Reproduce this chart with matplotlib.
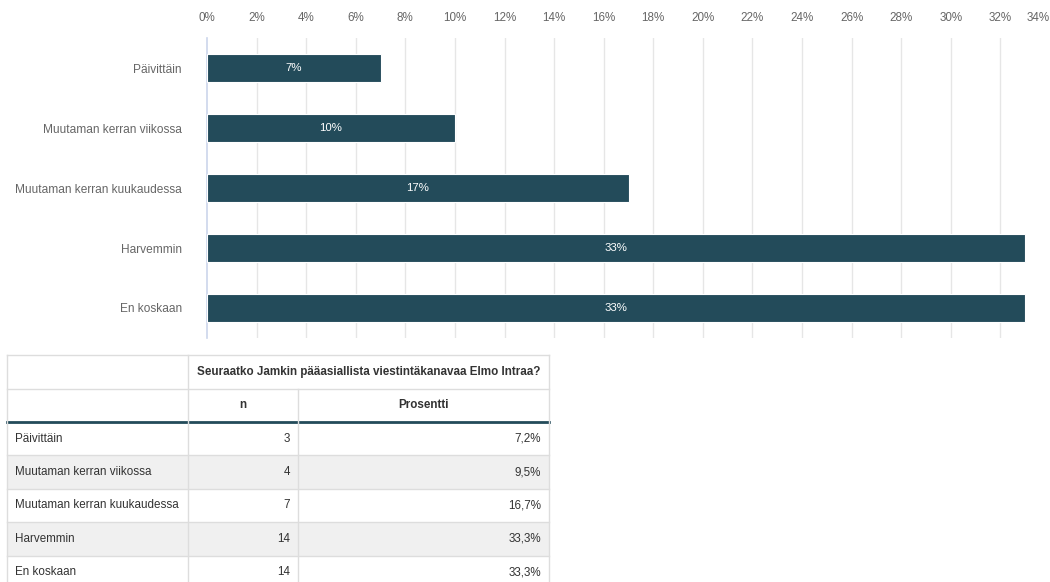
import matplotlib
matplotlib.use("Agg")
import matplotlib.pyplot as plt
from matplotlib.patches import Rectangle

plt.rcParams['font.family'] = ['Liberation Sans', 'DejaVu Sans']

# ---- data ----
categories = ["Päivittäin", "Muutaman kerran viikossa", "Muutaman kerran kuukaudessa",
              "Harvemmin", "En koskaan"]
bar_values = [7, 10, 17, 33, 33]
bar_labels = ["7%", "10%", "17%", "33%", "33%"]
counts = [3, 4, 7, 14, 14]
percents = ["7,2%", "9,5%", "16,7%", "33,3%", "33,3%"]
x_ticks = list(range(0, 35, 2))
x_tick_labels = [f"{t}%" for t in x_ticks]
table_title = "Seuraatko Jamkin pääasiallista viestintäkanavaa Elmo Intraa?"
col_headers = ["n", "Prosentti"]

W, H = 1050, 582
BAR = "#234b5a"
TXT = "#333333"
GRAY = "#666666"

fig = plt.figure(figsize=(W / 100, H / 100), dpi=100)

# ---- bar chart ----
ax = fig.add_axes([207 / W, 1 - 338 / H, 1 - 207 / W, 300 / H])
ypos = list(range(len(categories)))
ax.barh(ypos, bar_values, height=0.47, color=BAR, edgecolor="white", linewidth=0.8, zorder=3)
for y, v, lab in zip(ypos, bar_values, bar_labels):
    ax.text(v / 2, y, lab, ha="center", va="center", color="white", fontsize=8.2, zorder=4)
ax.set_xlim(0, 34)
ax.set_ylim(len(categories) - 0.5, -0.5)
ax.set_yticks(ypos)
ax.set_yticklabels(categories, fontsize=8.6, color=GRAY)
ax.xaxis.tick_top()
ax.set_xticks(x_ticks)
ax.set_xticklabels(x_tick_labels, fontsize=8.4, color=GRAY)
ax.get_xticklabels()[-1].set_ha("right")
ax.tick_params(axis="x", length=0, pad=10)
ax.tick_params(axis="y", length=0, pad=18)
for t in x_ticks[1:-1]:
    ax.axvline(t, color="#e6e6e6", linewidth=1, zorder=0)
for s in ["top", "right", "bottom"]:
    ax.spines[s].set_visible(False)
ax.spines["left"].set_color("#ccd6eb")
ax.spines["left"].set_linewidth(1.2)
ax.spines["left"].set_zorder(2)

# ---- table ----
tab = fig.add_axes([0, 0, 1, 1])
tab.set_xlim(0, W)
tab.set_ylim(H, 0)
tab.axis("off")
tab.set_zorder(-1)

x0, x1, x2, x3 = 7, 188, 298, 549
y_top = 355
h1 = 389
h2 = 422
row_h = 33.4
BORDER = "#dddddd"
FS = 8.4

rows_y = [h2 + i * row_h for i in range(len(categories) + 1)]
for i in range(len(categories)):
    if i % 2 == 1:
        tab.add_patch(Rectangle((x0, rows_y[i]), x3 - x0, row_h, color="#f0f0f0", lw=0))

# horizontal lines
for y in [y_top, h1] + rows_y[1:]:
    tab.plot([x0, x3], [y, y], color=BORDER, lw=1)
tab.plot([x0, x3], [h2, h2], color=BAR, lw=2)
# vertical lines
for x in [x0, x1, x3]:
    tab.plot([x, x], [y_top, rows_y[-1]], color=BORDER, lw=1)
tab.plot([x2, x2], [h1, rows_y[-1]], color=BORDER, lw=1)

tab.text((x1 + x3) / 2, (y_top + h1) / 2, table_title, ha="center", va="center",
         fontsize=FS, fontweight="bold", color=TXT)
tab.text((x1 + x2) / 2, (h1 + h2) / 2, col_headers[0], ha="center", va="center",
         fontsize=FS, fontweight="bold", color=TXT)
tab.text((x2 + x3) / 2, (h1 + h2) / 2, col_headers[1], ha="center", va="center",
         fontsize=FS, fontweight="bold", color=TXT)

for i, (cat, n, p) in enumerate(zip(categories, counts, percents)):
    yc = rows_y[i] + row_h / 2
    tab.text(x0 + 8, yc, cat, ha="left", va="center", fontsize=FS, color=TXT)
    tab.text(x2 - 8, yc, str(n), ha="right", va="center", fontsize=FS, color=TXT)
    tab.text(x3 - 8, yc, p, ha="right", va="center", fontsize=FS, color=TXT)

fig.savefig("out.png", dpi=100, facecolor="white")
